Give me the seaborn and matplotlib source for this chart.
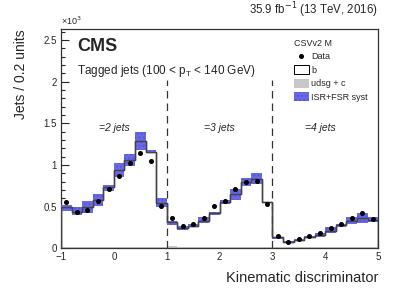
import numpy as np
import pandas as pd
import seaborn as sns
import matplotlib
matplotlib.use("Agg")
import matplotlib.pyplot as plt
from matplotlib.patches import Patch
from matplotlib.lines import Line2D
from matplotlib.ticker import MultipleLocator

# bin edges of the kinematic discriminator (3 jet-multiplicity regions, 0.2 wide bins)
edges = np.round(np.arange(-1.0, 5.0001, 0.2), 2)
centers = (edges[:-1] + edges[1:]) / 2

# total MC (b + udsg+c), units of 10^3
mc_total = [0.49, 0.44, 0.49, 0.58, 0.74, 0.94, 1.06, 1.29, 1.16, 0.54,
            0.31, 0.24, 0.27, 0.33, 0.42, 0.56, 0.65, 0.80, 0.83, 0.55,
            0.13, 0.08, 0.10, 0.13, 0.16, 0.21, 0.28, 0.33, 0.36, 0.34]
udsg = [0.02, 0.01, 0.01, 0.01, 0.01, 0.01, 0.01, 0.01, 0.01, 0.02,
        0.03, 0.01, 0.01, 0.01, 0.01, 0.01, 0.01, 0.01, 0.01, 0.01,
        0.02, 0.01, 0.01, 0.01, 0.01, 0.01, 0.01, 0.01, 0.01, 0.01]
data = [0.55, 0.43, 0.46, 0.57, 0.71, 0.87, 1.02, 1.14, 1.05, 0.51,
        0.36, 0.27, 0.29, 0.36, 0.51, 0.57, 0.71, 0.79, 0.81, 0.53,
        0.15, 0.08, 0.11, 0.15, 0.18, 0.24, 0.29, 0.36, 0.42, 0.35]
syst_lo = [0.45, 0.40, 0.42, 0.51, 0.69, 0.86, 0.99, 1.18, 1.14, 0.50,
           0.28, 0.22, 0.25, 0.30, 0.40, 0.53, 0.58, 0.75, 0.77, 0.54,
           0.11, 0.07, 0.09, 0.12, 0.14, 0.18, 0.26, 0.29, 0.30, 0.31]
syst_hi = [0.52, 0.49, 0.57, 0.65, 0.76, 1.02, 1.13, 1.39, 1.18, 0.60,
           0.33, 0.27, 0.29, 0.37, 0.44, 0.58, 0.71, 0.84, 0.90, 0.56,
           0.14, 0.09, 0.11, 0.15, 0.18, 0.25, 0.29, 0.38, 0.42, 0.37]
region_labels = ["=2 jets", "=3 jets", "=4 jets"]
region_x = [0.0, 2.0, 3.9]

df = pd.DataFrame({"x": centers, "mc": mc_total, "udsg": udsg, "data": data,
                   "lo": syst_lo, "hi": syst_hi})

band_col = "#6a6ae6"
band_hatch_col = "#5555dd"

sns.set_theme(style="ticks")
plt.rcParams["font.family"] = ["Liberation Sans", "DejaVu Sans"]

fig = plt.figure(figsize=(4.07, 2.93), dpi=100)
ax = fig.add_axes([0.150, 0.1525, 0.779, 0.7485])

# b (white) stacked on top of udsg+c (gray)
sns.histplot(data=df, x="x", weights="mc", binwidth=0.2, binrange=(-1, 5),
             element="step", fill=True, color="white", edgecolor="#444444",
             linewidth=1.0, alpha=1, ax=ax)
sns.histplot(data=df, x="x", weights="udsg", binwidth=0.2, binrange=(-1, 5),
             element="step", fill=True, color="#c8c8c8", edgecolor="none",
             linewidth=0, alpha=1, ax=ax)

# ISR+FSR systematic band
ax.bar(df["x"], df["hi"] - df["lo"], bottom=df["lo"], width=0.2,
       color=band_col, edgecolor=band_hatch_col, hatch="....", linewidth=0, zorder=3)
# redraw MC line on top of band
ax.stairs(df["mc"], edges, color="#444444", linewidth=1.0, zorder=4)

# data
ax.errorbar(df["x"], df["data"], yerr=0.015, fmt="o", color="black",
            ms=2.6, elinewidth=0.8, capsize=0, zorder=5)

# region separators
for xv in [1, 3]:
    ax.plot([xv, xv], [0, 2.02], color="#333333", lw=0.9, ls=(0, (6, 4)), zorder=2)
for lab, xv in zip(region_labels, region_x):
    ax.text(xv, 1.44, lab, style="italic", fontsize=7.5, ha="center", va="center")

ax.set_xlim(-1, 5)
ax.set_ylim(0, 2.63)
ax.xaxis.set_minor_locator(MultipleLocator(0.2))
ax.yaxis.set_minor_locator(MultipleLocator(0.1))
ax.set_yticks([0, 0.5, 1, 1.5, 2, 2.5])
ax.set_yticklabels(["0", "0.5", "1", "1.5", "2", "2.5"])
ax.set_xticks([-1, 0, 1, 2, 3, 4, 5])
ax.set_xticklabels(["\u22121", "0", "1", "2", "3", "4", "5"])
ax.tick_params(which="major", direction="in", length=6, width=0.8, labelsize=7)
ax.tick_params(axis="x", which="major", pad=3)
ax.tick_params(axis="y", which="major", pad=3)
ax.tick_params(which="minor", direction="in", length=3, width=0.8)
for s in ax.spines.values():
    s.set_visible(True)
    s.set_linewidth(0.9)
    s.set_color("#333333")

ax.set_xlabel("Kinematic discriminator", fontsize=10.5, loc="right", labelpad=6)
ax.set_ylabel("Jets / 0.2 units", fontsize=10, loc="top", labelpad=11)

ax.text(0.0, 1.01, "\u00d710$^3$", transform=ax.transAxes, fontsize=6.5, ha="left", va="bottom")
ax.text(1.0, 1.04, "35.9 fb$^{-1}$ (13 TeV, 2016)", transform=ax.transAxes,
        fontsize=8.3, ha="right", va="bottom")
ax.text(0.05, 0.96, "CMS", transform=ax.transAxes, fontsize=13,
        fontweight="bold", ha="left", va="top")
ax.text(0.05, 0.845, "Tagged jets (100 < p$_\\mathregular{T}$ < 140 GeV)",
        transform=ax.transAxes, fontsize=8.5, ha="left", va="top")

handles = [
    Line2D([0], [0], marker="o", color="black", ms=2.6, lw=0.8, ls="none"),
    Patch(facecolor="white", edgecolor="black", linewidth=0.7),
    Patch(facecolor="#c8c8c8", edgecolor="none"),
    Patch(facecolor=band_col, edgecolor=band_hatch_col, hatch="....", linewidth=0),
]
leg = ax.legend(handles, ["Data", "b", "udsg + c", "ISR+FSR syst"],
                title="CSVv2 M", loc="upper left", bbox_to_anchor=(0.735, 0.955),
                frameon=False, fontsize=6.5, title_fontsize=6.5, handlelength=1.6,
                handleheight=1.1, labelspacing=0.45, handletextpad=0.3,
                borderaxespad=0, borderpad=0.0)
leg._legend_box.align = "left"

fig.savefig("out.png", dpi=100)
